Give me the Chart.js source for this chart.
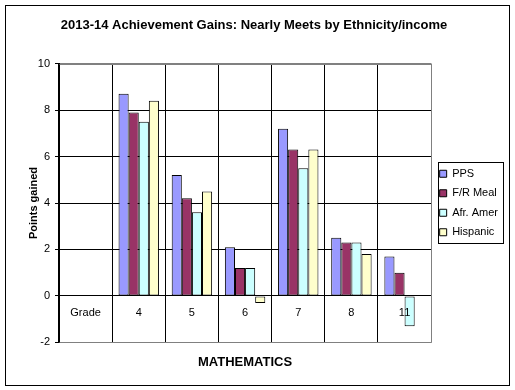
<!DOCTYPE html>
<html>
<head>
<meta charset="utf-8">
<script src="https://cdn.jsdelivr.net/npm/chart.js@4.4.0/dist/chart.umd.min.js"></script>
<style>
  html, body { margin: 0; padding: 0; background: #fff; }
  #wrap { width: 515px; height: 390px; position: relative; }
</style>
</head>
<body>
<div id="wrap"><canvas id="gains-chart" width="515" height="390"></canvas></div>
<script>
// categories along the x axis ("Grade" is just a row label, no bars)
const grades = ["Grade", "4", "5", "6", "7", "8", "11"];

// points gained
const ppsGains = [null, 8.7, 5.2, 2.1, 7.2, 2.5, 1.7];
const frMealGains = [null, 7.9, 4.2, 1.2, 6.3, 2.3, 1.0];
const afrAmerGains = [null, 7.5, 3.6, 1.2, 5.5, 2.3, -1.3];
const hispanicGains = [null, 8.4, 4.5, -0.3, 6.3, 1.8, null];

const yTicks = [-2, 0, 2, 4, 6, 8, 10];

const fontFamily = "'Liberation Sans', Arial, sans-serif";
const plotBorderGray = "#808080";

// white background, outer frame and plot/legend borders
const framePlugin = {
  id: "frame",
  beforeDraw(chart) {
    let ctx = chart.ctx;
    ctx.save();
    ctx.fillStyle = "#fff";
    ctx.fillRect(0, 0, chart.width, chart.height);
    ctx.strokeStyle = "#000";
    ctx.lineWidth = 1;
    ctx.strokeRect(5.5, 5.5, chart.width - 11, chart.height - 10);
    ctx.restore();
  },
  afterDraw(chart) {
    let ctx = chart.ctx;
    let area = chart.chartArea;
    ctx.save();
    ctx.strokeStyle = plotBorderGray;
    ctx.lineWidth = 1;
    ctx.beginPath();
    ctx.moveTo(Math.round(area.left) + 0.5, Math.round(area.top) + 0.5);
    ctx.lineTo(Math.round(area.right) + 0.5, Math.round(area.top) + 0.5);
    ctx.lineTo(Math.round(area.right) + 0.5, Math.round(area.bottom) + 0.5);
    ctx.lineTo(Math.round(area.left) + 0.5, Math.round(area.bottom) + 0.5);
    ctx.stroke();

    // legend frame
    let boxes = chart.legend.legendHitBoxes;
    if (boxes && boxes.length) {
      let left = Math.min(...boxes.map((b) => b.left)) - 2;
      let right = Math.max(...boxes.map((b) => b.left + b.width)) + 5;
      let top = boxes[0].top + boxes[0].height / 2 - 12;
      let last = boxes[boxes.length - 1];
      let bottom = last.top + last.height / 2 + 10;
      ctx.strokeStyle = "#000";
      ctx.strokeRect(Math.round(left) + 0.5, Math.round(top) + 0.5,
        Math.round(right - left), Math.round(bottom - top));
    }
    ctx.restore();
  },
};

function makeDataset(label, data, color) {
  return {
    label: label,
    data: data,
    backgroundColor: color,
    borderColor: "#000",
    borderWidth: 1,
    borderSkipped: false,
    categoryPercentage: 0.76,
    barPercentage: 1,
  };
}

let gainsChart = new Chart("gains-chart", {
  type: "bar",
  data: {
    labels: grades,
    datasets: [
      makeDataset("PPS", ppsGains, "#9999FF"),
      makeDataset("F/R Meal", frMealGains, "#993366"),
      makeDataset("Afr. Amer", afrAmerGains, "#CCFFFF"),
      makeDataset("Hispanic", hispanicGains, "#FFFFCC"),
    ],
  },
  plugins: [framePlugin],
  options: {
    responsive: false,
    animation: false,
    devicePixelRatio: 1,
    layout: {
      padding: { left: 0, right: 7, top: 0, bottom: 0 },
    },
    plugins: {
      title: {
        display: true,
        text: "2013-14 Achievement Gains: Nearly Meets by Ethnicity/income",
        color: "#000",
        font: { family: fontFamily, size: 13, weight: "bold" },
        padding: { top: 18, bottom: 30 },
      },
      subtitle: {
        display: true,
        position: "bottom",
        fullSize: false,
        text: "MATHEMATICS",
        color: "#000",
        font: { family: fontFamily, size: 13, weight: "bold" },
        padding: { top: 12, bottom: 20 },
      },
      legend: {
        position: "right",
        fullSize: false,
        labels: {
          color: "#000",
          font: { family: fontFamily, size: 11 },
          boxWidth: 7,
          boxHeight: 7,
          padding: 8.5,
        },
      },
      tooltip: { enabled: false },
    },
    scales: {
      x: {
        position: { y: 0 },
        grid: {
          offset: true,
          drawTicks: false,
          color: function (context) {
            return context.type === "tick" ? "#000" : plotBorderGray;
          },
        },
        border: { display: true, color: "#000" },
        ticks: {
          z: 1,
          color: "#000",
          font: { family: fontFamily, size: 11 },
          padding: 10,
          maxRotation: 0,
        },
      },
      y: {
        min: yTicks[0],
        max: yTicks[yTicks.length - 1],
        afterBuildTicks: function (scale) {
          scale.ticks = yTicks.map((v) => ({ value: v }));
        },
        afterFit: function (scale) {
          scale.width = 59;
        },
        grid: {
          color: function (context) {
            let v = context.tick ? context.tick.value : null;
            return v === yTicks[0] || v === yTicks[yTicks.length - 1]
              ? plotBorderGray
              : "#000";
          },
          tickColor: "#000",
          tickLength: 4,
        },
        border: { display: true, color: "#000" },
        ticks: {
          color: "#000",
          font: { family: fontFamily, size: 11 },
          padding: 5,
        },
        title: {
          display: true,
          text: "Points gained",
          color: "#000",
          font: { family: fontFamily, size: 11, weight: "bold" },
          padding: { top: 27, bottom: 0 },
        },
      },
    },
  },
});
</script>
</body>
</html>
